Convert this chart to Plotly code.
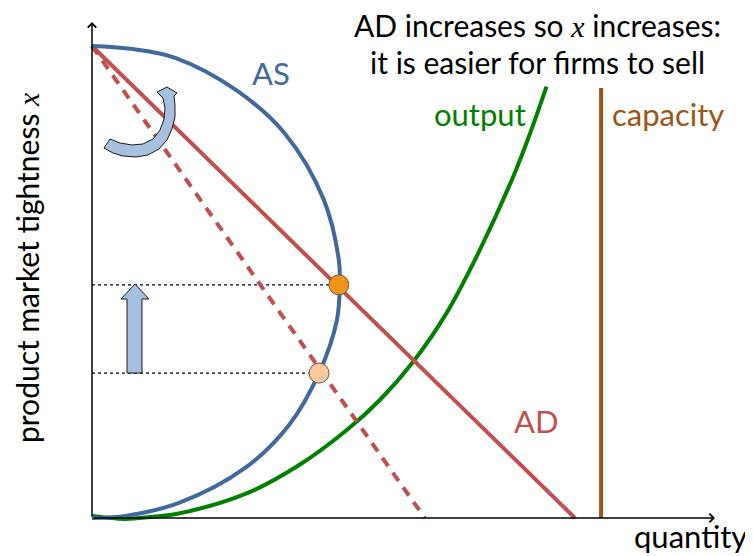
import plotly.graph_objects as go

# chart units: AD meets both axes at 100
as_q = [0, 7.9, 17.2, 29.8, 39.8, 48.0, 51.1, 51.3, 50.7, 47.0, 40.8, 31.7, 18.0, 6.6, 0]
as_x = [100, 99.4, 97.5, 90.7, 81.6, 67.4, 54.7, 50.0, 41.9, 30.7, 19.7, 10.6, 3.2, 0.4, 0]

ad_q = [0, 100]
ad_x = [100, 0]
ad_old_q = [0, 68.9]
ad_old_x = [100, 0]

out_q = [0, 6.8, 12.0, 18.2, 32.0, 42.4, 52.7, 59.6, 66.5, 73.4, 80.3, 87.2, 90.7, 94.1]
out_x = [0.4, -0.2, 0.2, 1.0, 5.2, 10.9, 18.6, 25.0, 33.1, 43.4, 56.8, 72.3, 81.5, 91.4]

cap_q = [105.4, 105.4]
cap_x = [0, 91.1]

eq_new = (51.1, 49.4)
eq_old = (47.0, 30.7)

BLUE = '#41699e'
RED = '#c0504d'
GREEN = '#008000'
BROWN = '#9c5514'
ARROW_FILL = '#a7c0e0'
FONT = 'Lato'

# pixels per chart unit, origin of the axes in the page
SX, SY = 4.83, 4.72
OX, OY = 92, 518
W, H = 745, 548   # page body has an 8px margin
PAD = 8


def px(x, y):
    """page pixel -> chart units (decorations and labels only)"""
    return (x - OX) / SX, (OY - y) / SY


def path(points):
    parts = []
    for i, (x, y) in enumerate(points):
        dx, dy = px(x, y)
        parts.append(('M' if i == 0 else 'L') + f'{dx:.2f},{dy:.2f}')
    return ' '.join(parts) + ' Z'


fig = go.Figure()

for q, x in (eq_new, eq_old):
    fig.add_trace(go.Scatter(x=[0, q], y=[x, x], mode='lines',
                             line=dict(color='black', width=1.3, dash='dot'), hoverinfo='skip'))

fig.add_trace(go.Scatter(x=cap_q, y=cap_x, mode='lines', line=dict(color=BROWN, width=4)))
fig.add_trace(go.Scatter(x=out_q, y=out_x, mode='lines', line=dict(color=GREEN, width=4, shape='spline')))
fig.add_trace(go.Scatter(x=ad_old_q, y=ad_old_x, mode='lines',
                         line=dict(color=RED, width=4, dash='10px,8px')))
fig.add_trace(go.Scatter(x=ad_q, y=ad_x, mode='lines', line=dict(color=RED, width=4)))
fig.add_trace(go.Scatter(x=as_q, y=as_x, mode='lines', line=dict(color=BLUE, width=4, shape='spline')))

fig.add_trace(go.Scatter(x=[eq_new[0]], y=[eq_new[1]], mode='markers',
                         marker=dict(size=20, color='#f39419', line=dict(color='#6b5a4a', width=1))))
fig.add_trace(go.Scatter(x=[eq_old[0]], y=[eq_old[1]], mode='markers',
                         marker=dict(size=20, color='#f9c89f', line=dict(color='#6b5a4a', width=1))))

# block arrow pointing up
up_arrow = [(127, 373), (142, 373), (142, 299), (149, 299), (135, 284), (121, 299), (127, 299)]
# curved arrow (hook)
hook = [(104, 148), (113, 153), (123, 156), (136, 157), (148, 155), (159, 149), (167, 140),
        (172, 129), (175, 117), (175, 105), (174, 96), (177, 93), (167, 87), (157, 92),
        (163, 98), (165, 108), (164, 119), (160, 130), (153, 139), (143, 144), (132, 145),
        (120, 143), (110, 139)]

fig.update_layout(shapes=[
    dict(type='path', xref='x', yref='y', path=path(up_arrow),
         fillcolor=ARROW_FILL, line=dict(color='#1a1a1a', width=1)),
    dict(type='path', xref='x', yref='y', path=path(hook),
         fillcolor=ARROW_FILL, line=dict(color='#1a1a1a', width=1)),
])

# axes with arrow heads
for tip in (px(715, 518), px(92, 22)):
    fig.add_annotation(x=tip[0], y=tip[1], ax=0, ay=0, xref='x', yref='y', axref='x', ayref='y',
                       text='', showarrow=True, arrowhead=4, arrowsize=1.1, arrowwidth=1.5,
                       arrowcolor='black')

XI = '<span style="font-family:Liberation Serif;font-style:italic">x</span>'
labels = [
    (f'AD increases so {XI} increases:', (537, 25), 'black', 0, 30),
    ('it is easier for firms to sell', (537, 62), 'black', 0, 30),
    ('AS', (271, 73), BLUE, 0, 31),
    ('output', (480, 114), GREEN, 0, 31),
    ('capacity', (668, 114), BROWN, 0, 31),
    ('AD', (536, 421), RED, 0, 31),
    ('quantity', (690, 536), 'black', 0, 31),
    (f'product market tightness {XI}', (27, 268), 'black', -90, 30),
]
for text, pos, color, angle, size in labels:
    x, y = px(*pos)
    fig.add_annotation(x=x, y=y, xref='x', yref='y', text=text, showarrow=False, textangle=angle,
                       font=dict(family=FONT, size=size, color=color))

fig.update_layout(
    width=W, height=H,
    margin=dict(l=0, r=0, t=0, b=0),
    plot_bgcolor='white', paper_bgcolor='white',
    showlegend=False,
    xaxis=dict(range=[(PAD - OX) / SX, (PAD + W - OX) / SX], visible=False, fixedrange=True),
    yaxis=dict(range=[(OY - PAD - H) / SY, (OY - PAD) / SY], visible=False, fixedrange=True),
)

fig.write_html("out.html")
